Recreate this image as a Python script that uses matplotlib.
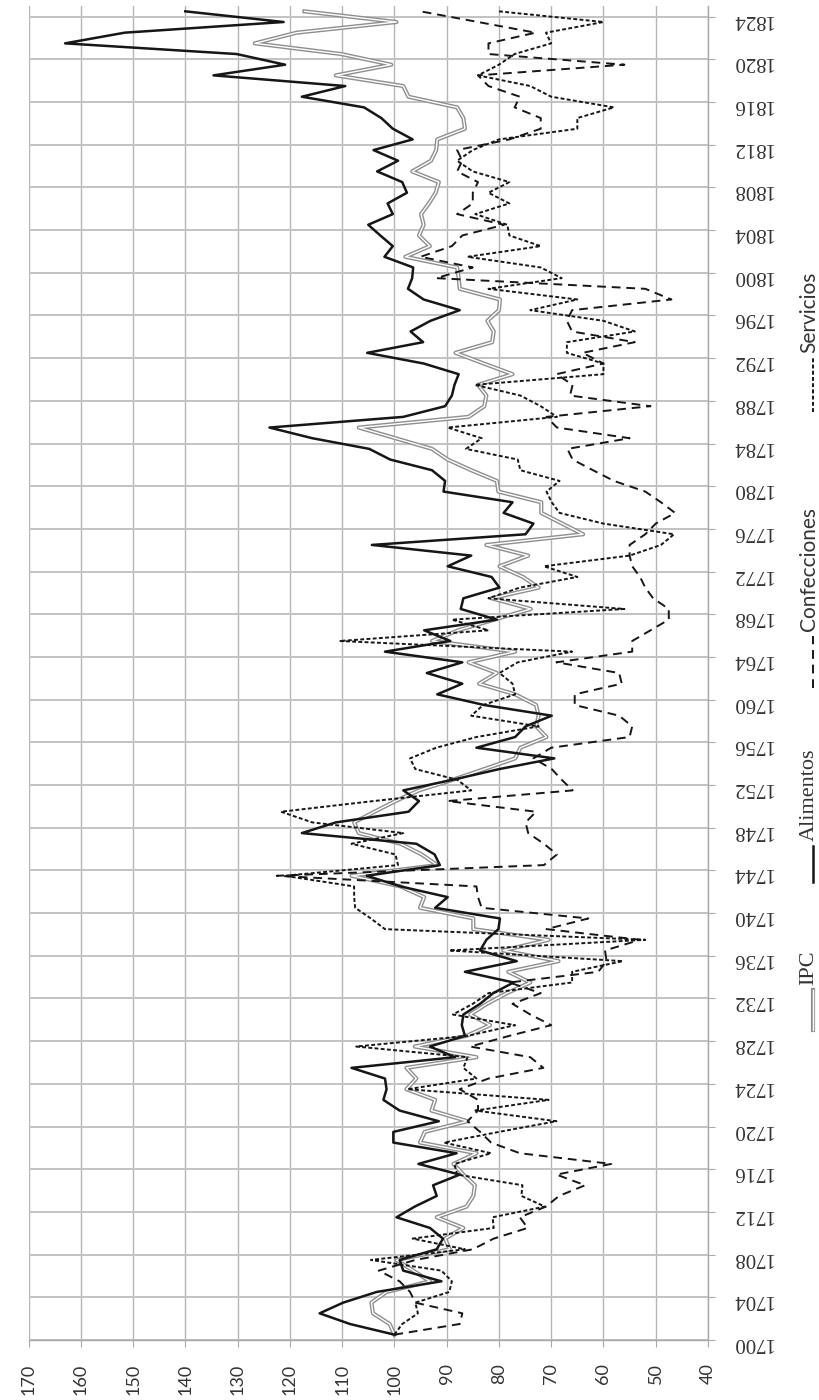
import numpy as np
import matplotlib
matplotlib.use("Agg")
import matplotlib.pyplot as plt
from matplotlib.lines import Line2D

# Price indices, base 1700 = 100
years = list(range(1700, 1825))

ipc = [100.0, 100.9, 104.1, 104.4, 101.5, 93.2, 96.4, 99.6, 89.4, 90.3,
       86.8, 91.9, 86.2, 84.9, 84.6, 86.8, 88.7, 84.3, 95.1, 94.2,
       86.0, 92.9, 92.2, 97.7, 95.8, 97.7, 84.3, 96.1, 86.2, 81.7,
       85.5, 82.3, 78.5, 74.0, 78.2, 68.6, 79.2, 70.5, 84.9, 84.9,
       95.1, 94.3, 98.8, 108.2, 91.8, 94.8, 98.8, 106.8, 107.7, 103.8,
       99.8, 95.3, 88.8, 82.8, 76.9, 75.9, 70.9, 72.9, 72.4, 72.9,
       76.9, 83.8, 80.4, 85.8, 76.9, 92.8, 87.8, 80.9, 73.9, 81.4,
       72.4, 75.4, 79.9, 74.4, 82.4, 63.9, 67.9, 71.9, 71.9, 80.1,
       80.4, 85.3, 89.8, 92.8, 99.8, 106.8, 85.8, 82.8, 82.4, 84.0,
       77.4, 82.9, 88.3, 81.3, 81.0, 82.2, 80.0, 79.8, 87.5, 87.7,
       88.0, 97.9, 93.2, 95.3, 94.4, 94.9, 93.4, 92.1, 91.5, 96.6,
       93.0, 92.0, 91.8, 86.5, 86.8, 88.0, 97.3, 98.3, 111.2, 100.6,
       110.2, 126.7, 118.7, 99.6, 117.2]

alimentos = [100.0, 108.5, 114.3, 109.8, 103.4, 91.0, 98.3, 99.0, 91.9, 90.7,
             93.2, 99.6, 96.1, 91.9, 92.6, 87.5, 95.4, 88.1, 100.2, 100.2,
             91.5, 99.0, 102.1, 101.5, 101.8, 108.2, 88.4, 93.2, 86.5, 87.1,
             86.8, 83.6, 81.1, 77.2, 86.5, 76.6, 83.6, 82.4, 80.1, 79.8,
             92.2, 89.8, 98.8, 105.3, 91.3, 92.3, 95.8, 117.7, 111.2, 97.3,
             95.3, 98.3, 88.8, 79.9, 69.4, 84.3, 76.9, 74.9, 69.9, 82.8,
             91.8, 87.0, 93.8, 87.0, 101.8, 89.3, 94.3, 80.4, 87.3, 86.8,
             79.9, 81.4, 89.8, 85.3, 104.3, 74.9, 73.4, 79.1, 77.4, 90.6,
             90.3, 92.8, 100.8, 104.8, 115.7, 123.9, 98.3, 90.3, 89.0, 88.5,
             87.7, 94.4, 105.2, 94.5, 96.9, 93.1, 87.5, 94.4, 97.4, 96.6,
             96.4, 101.9, 100.3, 102.7, 105.0, 100.3, 101.3, 97.6, 98.5, 103.3,
             99.3, 104.0, 96.5, 100.3, 102.5, 105.8, 117.7, 109.4, 134.6, 120.9,
             130.2, 163.0, 151.6, 121.2, 140.0]

confecciones = [100.0, 87.5, 87.0, 96.0, 97.0, 99.0, 103.0, 96.0, 85.0, 81.0,
                74.5, 76.0, 71.0, 68.5, 63.5, 69.0, 58.5, 76.0, 81.5, 83.6,
                86.0, 84.0, 84.0, 87.5, 82.0, 71.5, 74.0, 85.5, 78.0, 70.0,
                74.0, 77.4, 72.0, 78.0, 61.0, 59.4, 59.7, 53.0, 70.9, 62.9,
                83.3, 84.0, 84.3, 122.5, 71.4, 68.9, 71.4, 74.4, 74.9, 72.9,
                89.8, 65.9, 68.0, 69.9, 73.4, 70.0, 55.0, 54.5, 57.0, 65.5,
                65.5, 56.5, 57.0, 69.0, 54.5, 54.5, 51.0, 47.5, 47.5, 50.5,
                52.0, 53.0, 54.5, 55.0, 55.0, 52.0, 50.0, 46.3, 49.0, 52.0,
                58.0, 62.0, 65.9, 66.9, 55.0, 68.9, 70.9, 51.0, 66.4, 65.9,
                69.0, 60.0, 64.0, 54.0, 66.0, 67.0, 66.0, 47.0, 52.0, 92.0,
                85.0, 95.0, 89.0, 87.0, 79.0, 88.0, 85.0, 85.0, 84.0, 88.0,
                87.0, 88.0, 78.0, 72.0, 72.0, 77.0, 76.0, 82.0, 84.0, 56.0,
                82.0, 82.0, 73.0, 84.0, 95.0]

servicios = [100.0, 98.5, 95.5, 96.0, 89.5, 89.0, 91.0, 104.5, 86.5, 96.5,
             81.0, 81.2, 71.2, 75.7, 75.5, 88.0, 88.5, 81.5, 90.5, 80.0,
             69.0, 84.5, 70.5, 97.5, 84.3, 86.8, 86.0, 107.3, 86.0, 76.9,
             88.8, 85.0, 82.0, 66.0, 66.0, 56.3, 89.5, 52.0, 101.8, 104.5,
             107.5, 107.7, 107.7, 121.0, 99.3, 99.8, 108.2, 98.3, 115.7, 121.7,
             104.0, 85.3, 88.0, 96.0, 97.0, 92.0, 84.3, 72.4, 85.3, 83.0,
             76.9, 77.4, 79.9, 76.4, 66.0, 110.5, 82.0, 89.0, 56.0, 82.0,
             76.0, 65.0, 71.4, 55.0, 49.0, 46.5, 60.0, 68.4, 69.9, 70.9,
             68.4, 75.9, 76.4, 86.3, 83.3, 89.8, 68.9, 72.0, 75.9, 84.6,
             60.0, 60.0, 67.0, 67.0, 54.0, 60.0, 74.0, 65.0, 82.0, 68.0,
             72.0, 86.0, 72.0, 78.0, 78.4, 84.5, 78.0, 82.0, 78.0, 85.0,
             88.0, 85.0, 80.0, 65.0, 65.0, 58.0, 70.0, 74.0, 84.0, 80.0,
             77.0, 70.0, 71.0, 60.0, 80.0]

value_ticks = list(range(170, 30, -10))
year_ticks = list(range(1700, 1825, 4))
labels = ["IPC", "Alimentos", "Confecciones", "Servicios"]

W_PX, H_PX = 820, 1400
fig = plt.figure(figsize=(W_PX / 100, H_PX / 100), dpi=100)
fig.patch.set_facecolor("white")


def fx(px):
    return px / W_PX


def fy(py):
    return 1 - py / H_PX


left, right, top, bottom = 28.5, 708.0, 6.0, 1340.0
ax = fig.add_axes([fx(left), fy(bottom), fx(right) - fx(left), fy(top) - fy(bottom)])

# each annual value sits in the middle of its year band
pos = np.array(years) + 0.5

ink = "#161616"
ipc_grey = "#8e8e8e"
ax.plot(ipc, pos, color=ipc_grey, lw=3.0, zorder=3)
ax.plot(ipc, pos, color="white", lw=1.0, zorder=3.1)
ax.plot(alimentos, pos, color=ink, lw=1.8, zorder=4)
ax.plot(confecciones, pos, color=ink, lw=1.4, dashes=(4.5, 3.0), zorder=5)
ax.plot(servicios, pos, color=ink, lw=1.4, dashes=(2.0, 1.2), zorder=6)

ax.set_xlim(170, 40)
ax.set_ylim(1700, 1825)
ax.set_xticks(value_ticks)
ax.set_yticks(year_ticks)
ax.yaxis.tick_right()
ax.grid(True, axis="x", color="#b5b5b5", lw=1.0, zorder=0)
ax.grid(True, axis="y", color="#c2c2c2", lw=1.4, zorder=0)
ax.set_axisbelow(True)

for side in ("top", "left"):
    ax.spines[side].set_visible(False)
for side in ("bottom", "right"):
    ax.spines[side].set_color("#a9a9a9")
    ax.spines[side].set_linewidth(1.0)

ax.tick_params(axis="x", direction="out", length=5, color="#a9a9a9",
               labelsize=13, labelrotation=90, pad=12, labelcolor="#333333")
ax.tick_params(axis="y", direction="out", length=5, color="#a9a9a9",
               labelsize=15, labelrotation=180, pad=12, labelcolor="#333333")
for lbl in ax.get_xticklabels():
    lbl.set_fontfamily("Lato")
for lbl in ax.get_yticklabels():
    lbl.set_fontfamily("Liberation Serif")

# legend, written along the right margin
lx = 813
entries = [
    ("IPC", "ipc", 1030, 990, "Liberation Serif", 16),
    ("Alimentos", "alim", 882, 846, "Liberation Serif", 16),
    ("Confecciones", "conf", 688, 636, "Lato", 15),
    ("Servicios", "serv", 412, 358, "Lato", 15),
]
for text, kind, y0, y1, fam, fs in entries:
    xs = [fx(lx), fx(lx)]
    ys = [fy(y0), fy(y1)]
    if kind == "ipc":
        fig.add_artist(Line2D(xs, ys, color=ipc_grey, lw=3.0, transform=fig.transFigure))
        fig.add_artist(Line2D(xs, ys, color="white", lw=1.0, transform=fig.transFigure))
    elif kind == "alim":
        fig.add_artist(Line2D(xs, ys, color=ink, lw=1.8, transform=fig.transFigure))
    elif kind == "conf":
        fig.add_artist(Line2D(xs, ys, color=ink, lw=1.4, dashes=(4.5, 3.0), transform=fig.transFigure))
    else:
        fig.add_artist(Line2D(xs, ys, color=ink, lw=1.4, dashes=(2.0, 1.2), transform=fig.transFigure))
    fig.text(fx(lx - 4), fy(y1 - 5), text, rotation=90, ha="center", va="bottom",
             fontsize=fs, family=fam, color="#333333")

fig.savefig("out.png", dpi=100, facecolor="white")
